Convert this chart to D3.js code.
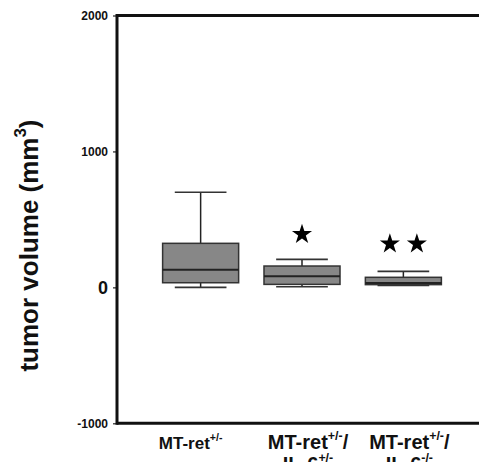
<!DOCTYPE html>
<html>
<head>
<meta charset="utf-8">
<script src="https://cdn.jsdelivr.net/npm/d3@7"></script>
<style>
  html, body { margin: 0; padding: 0; background: #fff; }
  svg { display: block; }
</style>
</head>
<body>
<svg id="chart" width="479" height="462"></svg>
<script>
// ---- data ----
const categories = ["MT-ret+/-", "MT-ret+/-/IL-6+/-", "MT-ret+/-/IL-6-/-"];
// label lines, superscripts marked with ^{...}
const categoryLabels = [
  ["MT-ret^{+/-}"],
  ["MT-ret^{+/-}/", "IL-6^{+/-}"],
  ["MT-ret^{+/-}/", "IL-6^{-/-}"]
];
const whiskerLow  = [0, 5, 14];
const q1          = [34, 22, 20];
const median      = [130, 81, 32];
const q3          = [324, 157, 74];
const whiskerHigh = [700, 206, 118];
const starCounts  = [0, 1, 2];
const starValues  = [null, 390, 320];
const yTicks      = [-1000, 0, 1000, 2000];
const yLabel      = "tumor volume (mm^{3})";

// ---- layout ----
const W = 479, H = 462;
const mLeft = 117, mTop = 15.5, mBottom = 423.3;
const svg = d3.select("#chart");

const x = d3.scaleBand().domain(categories).range([mLeft, 487])
  .paddingInner(0.25).paddingOuter(0.45);
const y = d3.scaleLinear().domain([-1000, 2000]).range([mBottom, mTop]);

const FONT = "'Liberation Sans Narrow', 'Liberation Sans', Arial, sans-serif";
const FONTW = "'Liberation Sans', Arial, sans-serif";

// y axis
const yAxis = d3.axisLeft(y).tickValues(yTicks).tickSize(4).tickPadding(5).tickFormat(d => String(d));
const gy = svg.append("g").attr("transform", `translate(${mLeft},0)`).call(yAxis);
gy.select(".domain").remove();
gy.selectAll(".tick line").attr("stroke", "#222").attr("stroke-width", 1.2);
gy.selectAll(".tick text")
  .attr("fill", "#111")
  .style("font-family", FONTW)
  .style("font-weight", "bold")
  .style("font-size", d => d === 0 ? "18px" : "12px");

// frame lines
svg.append("line").attr("x1", mLeft).attr("x2", mLeft).attr("y1", y(2000) - 1.5).attr("y2", y(-1000) + 1.5)
  .attr("stroke", "#111").attr("stroke-width", 3);
svg.append("line").attr("x1", mLeft).attr("x2", W).attr("y1", y(2000)).attr("y2", y(2000))
  .attr("stroke", "#111").attr("stroke-width", 3);
svg.append("line").attr("x1", mLeft).attr("x2", W).attr("y1", y(-1000)).attr("y2", y(-1000))
  .attr("stroke", "#111").attr("stroke-width", 3);

// boxes
const bw = x.bandwidth();
const capW = bw * 0.68;
const boxes = categories.map((c, i) => ({
  c, lo: whiskerLow[i], q1: q1[i], med: median[i], q3: q3[i], hi: whiskerHigh[i],
  stars: starCounts[i], starV: starValues[i]
}));
const g = svg.append("g");
boxes.forEach(b => {
  const cx = x(b.c) + bw / 2;
  g.append("line").attr("x1", cx).attr("x2", cx).attr("y1", y(b.hi)).attr("y2", y(b.q3))
    .attr("stroke", "#222").attr("stroke-width", 1.5);
  g.append("line").attr("x1", cx).attr("x2", cx).attr("y1", y(b.q1)).attr("y2", y(b.lo))
    .attr("stroke", "#222").attr("stroke-width", 1.5);
  [b.hi, b.lo].forEach(v => {
    g.append("line").attr("x1", cx - capW / 2).attr("x2", cx + capW / 2).attr("y1", y(v)).attr("y2", y(v))
      .attr("stroke", "#333").attr("stroke-width", 1.6);
  });
  g.append("rect").attr("x", x(b.c)).attr("width", bw)
    .attr("y", y(b.q3)).attr("height", y(b.q1) - y(b.q3))
    .attr("fill", "#878787").attr("stroke", "#333").attr("stroke-width", 1.5);
  g.append("line").attr("x1", x(b.c)).attr("x2", x(b.c) + bw).attr("y1", y(b.med)).attr("y2", y(b.med))
    .attr("stroke", "#222").attr("stroke-width", 2);
  const star = d3.symbol().type(d3.symbolStar).size(125);
  for (let k = 0; k < b.stars; k++) {
    const off = (k - (b.stars - 1) / 2) * 27;
    g.append("path").attr("d", star())
      .attr("transform", `translate(${cx + off},${y(b.starV)})`)
      .attr("fill", "#000");
  }
});

// rich text helper: parse ^{...} into superscript tspans
function addRich(textSel, str, supScale) {
  const re = /\^\{([^}]*)\}/g;
  let last = 0, m;
  const parts = [];
  while ((m = re.exec(str)) !== null) {
    if (m.index > last) parts.push({ t: str.slice(last, m.index), sup: false });
    parts.push({ t: m[1], sup: true });
    last = re.lastIndex;
  }
  if (last < str.length) parts.push({ t: str.slice(last), sup: false });
  let prevSup = false;
  parts.forEach(p => {
    const ts = textSel.append("tspan").text(p.t);
    if (p.sup) {
      ts.style("font-size", supScale + "em").attr("dy", "-0.7em");
      prevSup = true;
    } else if (prevSup) {
      ts.attr("dy", (0.7 * supScale) + "em");
      prevSup = false;
    }
  });
}

// x labels
const labelSizes = [17, 20, 20];
categories.forEach((c, i) => {
  const cx = x(c) + bw / 2;
  const lines = categoryLabels[i];
  const fs = labelSizes[i];
  const shift = i === 0 ? -10 : 6;
  lines.forEach((ln, j) => {
    const t = svg.append("text")
      .attr("x", cx + shift).attr("y", 448.5 + j * 22.5)
      .attr("text-anchor", "middle")
      .style("font-family", FONT).style("font-weight", "bold")
      .style("font-size", fs + "px").attr("fill", "#111");
    addRich(t, ln, 0.62);
  });
});

// y label
const yl = svg.append("text")
  .attr("transform", `translate(38,${(118 + 373) / 2}) rotate(-90)`)
  .attr("text-anchor", "middle")
  .style("font-family", FONT).style("font-weight", "bold")
  .style("font-size", "26px").attr("fill", "#111");
addRich(yl, yLabel, 0.65);
</script>
</body>
</html>
